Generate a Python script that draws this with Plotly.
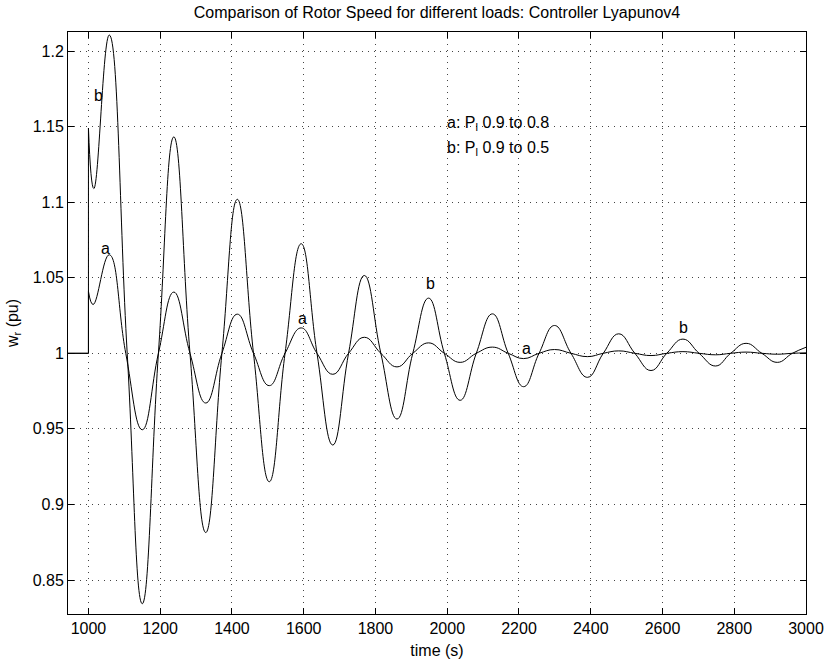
import plotly.graph_objects as go

# Rotor speed response, case a: load P_l stepped from 0.9 to 0.8
a_step_t = [943, 1000, 1000]
a_step_w = [1.0, 1.0, 1.041]
a_t = [1000, 1013, 1058, 1104, 1150, 1195, 1238, 1283, 1327, 1372, 1415, 1460,
       1504, 1548, 1593, 1637, 1681, 1725, 1769, 1815, 1860, 1904, 1948, 1992,
       2036, 2081, 2126, 2170, 2213, 2256, 2299, 2345, 2391, 2435, 2478, 2523,
       2568, 2612, 2657, 2702, 2748, 2790, 2833, 2877, 2920, 2962, 3000]
a_w = [1.041, 1.0323, 1.0652, 1.0, 0.9494, 1.0, 1.0405, 1.0, 0.9671, 1.0, 1.0259, 1.0,
       0.9786, 1.0, 1.0168, 1.0, 0.9861, 1.0, 1.0106, 1.0, 0.991, 1.0, 1.0069, 1.0,
       0.994, 1.0, 1.0041, 1.0, 0.9965, 1.0, 1.0025, 1.0, 0.9978, 1.0, 1.0016, 1.0,
       0.9985, 1.0, 1.0011, 1.0, 0.999, 1.0, 1.0008, 1.0, 0.9994, 1.0, 1.0003]

# Case b: load P_l stepped from 0.9 to 0.5
b_step_t = [943, 1000, 1000]
b_step_w = [1.0, 1.0, 1.149]
b_t = [1000, 1015, 1058, 1108, 1150, 1195, 1238, 1283, 1327, 1372, 1415, 1460,
       1504, 1548, 1593, 1637, 1681, 1725, 1769, 1815, 1860, 1904, 1948, 1992,
       2036, 2081, 2126, 2170, 2213, 2256, 2299, 2345, 2391, 2435, 2478, 2523,
       2568, 2612, 2657, 2702, 2748, 2790, 2833, 2877, 2920, 2962, 3000]
b_w = [1.149, 1.109, 1.2106, 1.0, 0.8343, 1.0, 1.1432, 1.0, 0.8814, 1.0, 1.1019, 1.0,
       0.915, 1.0, 1.0725, 1.0, 0.9393, 1.0, 1.0515, 1.0, 0.9565, 1.0, 1.0365, 1.0,
       0.9689, 1.0, 1.0261, 1.0, 0.9779, 1.0, 1.0184, 1.0, 0.9841, 1.0, 1.0129, 1.0,
       0.9886, 1.0, 1.0094, 1.0, 0.9916, 1.0, 1.0066, 1.0, 0.994, 1.0, 1.004]

# Curve tags placed along the traces
tag_text = ["b", "a", "a", "b", "a", "b"]
tag_t = [1027, 1048, 1596, 1953, 2222, 2659]
tag_w = [1.1708, 1.0692, 1.0228, 1.046, 1.0029, 1.0172]

x_ticks = [1000, 1200, 1400, 1600, 1800, 2000, 2200, 2400, 2600, 2800, 3000]
y_ticks = [0.85, 0.9, 0.95, 1.0, 1.05, 1.1, 1.15, 1.2]
y_tick_text = ["0.85", "0.9", "0.95", "1", "1.05", "1.1", "1.15", "1.2"]

FONT = "Liberation Sans, Arial, Helvetica, sans-serif"
FS = 16

fig = go.Figure()
for st, sw, t, w in [(a_step_t, a_step_w, a_t, a_w), (b_step_t, b_step_w, b_t, b_w)]:
    fig.add_trace(go.Scatter(x=st, y=sw, mode="lines", line=dict(color="black", width=1),
                             hoverinfo="skip", showlegend=False))
    fig.add_trace(go.Scatter(x=t, y=w, mode="lines",
                             line=dict(color="black", width=1, shape="spline", smoothing=1.3),
                             showlegend=False))

for txt, t, w in zip(tag_text, tag_t, tag_w):
    fig.add_annotation(x=t, y=w, text=txt, showarrow=False,
                       font=dict(family=FONT, size=FS, color="black"))

fig.add_annotation(x=1994, y=1.152, text="a: P<sub>l</sub> 0.9 to 0.8", showarrow=False,
                   xanchor="left", font=dict(family=FONT, size=FS, color="black"))
fig.add_annotation(x=1994, y=1.1355, text="b: P<sub>l</sub> 0.9 to 0.5", showarrow=False,
                   xanchor="left", font=dict(family=FONT, size=FS, color="black"))

axis_common = dict(
    showline=True, linecolor="black", linewidth=1, mirror="ticks",
    ticks="inside", ticklen=6, tickcolor="black", automargin=False,
    showgrid=True, gridcolor="#444444", gridwidth=1, griddash="1px,5px",
    zeroline=False, tickfont=dict(family=FONT, size=FS, color="black"),
)

fig.update_layout(
    width=825, height=664,
    margin=dict(l=68, r=19, t=32, b=50),
    paper_bgcolor="white", plot_bgcolor="white",
    title=dict(text="Comparison of Rotor Speed for different loads: Controller Lyapunov4",
               x=0.5, xref="paper", xanchor="center", y=0.99, yanchor="top",
               font=dict(family=FONT, size=FS, color="black")),
    xaxis=dict(range=[943, 3000], tickvals=x_ticks,
               title=dict(text="time (s)", standoff=8,
                          font=dict(family=FONT, size=FS, color="black")),
               **axis_common),
    yaxis=dict(range=[0.8275, 1.2126], tickvals=y_ticks, ticktext=y_tick_text,
               title=dict(text="w<sub>r</sub> (pu)", standoff=10,
                          font=dict(family=FONT, size=FS, color="black")),
               **axis_common),
)

fig.write_html("out.html")
